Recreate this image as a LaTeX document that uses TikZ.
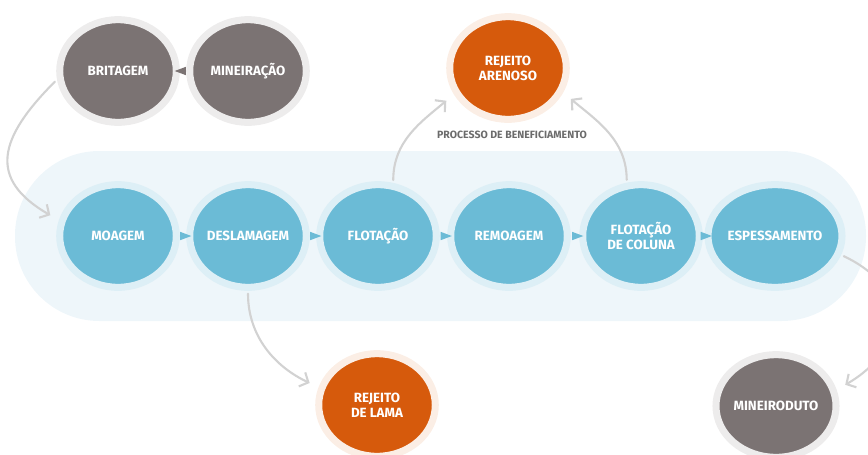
\documentclass[tikz,border=0pt]{standalone}
\usepackage{fontspec}
\setmainfont{Fira Sans}
\usetikzlibrary{shapes.geometric,arrows.meta}
\definecolor{fundo}{HTML}{EEF6FA}
\definecolor{azul}{HTML}{6BBBD6}
\definecolor{azulhalo}{HTML}{DDEFF6}
\definecolor{laranja}{HTML}{D65A0C}
\definecolor{laranjahalo}{HTML}{FBEEE5}
\definecolor{cinza}{HTML}{7B7373}
\definecolor{cinzahalo}{HTML}{EDECEC}
\definecolor{linha}{HTML}{D2D2D2}
\definecolor{titulo}{HTML}{6B6B6B}
\tikzset{
  circ/.style={ellipse, minimum width=82.9pt, minimum height=73pt, inner sep=0pt,
    line width=5pt, text=white, align=center,
    font=\fontsize{9.5}{10.5}\selectfont\bfseries},
  etapa/.style={circ, fill=azul, draw=azulhalo},
  rejeito/.style={circ, fill=laranja, draw=laranjahalo},
  extra/.style={circ, fill=cinza, draw=cinzahalo},
  ponta/.style={isosceles triangle, isosceles triangle stretches, fill=azul,
    inner sep=0pt, minimum width=6pt, minimum height=8pt},
  seta/.style={draw=linha, line width=1.5pt, line cap=round,
    -{Straight Barb[length=5pt,width=11pt]}, shorten <=2pt, shorten >=7pt},
  lab/.style={text=titulo, font=\fontsize{7.5}{9}\selectfont\bfseries},
}

\begin{document}
\begin{tikzpicture}[x=0.025cm, y=-0.025cm]
  \useasboundingbox (0,0) rectangle (868,454);
  \fill[fundo, rounded corners=60pt] (15,151) rectangle (866,321);

  % linha principal
  \node[etapa] (moagem)       at (118,236) {MOAGEM};
  \node[etapa] (deslamagem)   at (248,236) {DESLAMAGEM};
  \node[etapa] (flotacao)     at (378,236) {FLOTAÇÃO};
  \node[etapa] (remoagem)     at (509,236) {REMOAGEM};
  \node[etapa] (coluna)       at (641,236) {FLOTAÇÃO\\DE COLUNA};
  \node[etapa] (espessamento) at (775,236) {ESPESSAMENTO};
  \foreach \a/\b in {moagem/deslamagem, deslamagem/flotacao, flotacao/remoagem,
                     remoagem/coluna, coluna/espessamento}
    \path (\a) -- node[ponta] {} (\b);

  % entrada e saidas
  \node[extra] (britagem)   at (118,71) {BRITAGEM};
  \node[extra] (mineracao)  at (248,71) {MINEIRAÇÃO};
  \path (mineracao) -- node[ponta, fill=cinza, shape border rotate=180] {} (britagem);
  \node[rejeito] (arenoso)  at (508,68) {REJEITO\\ARENOSO};
  \node[rejeito] (lama)     at (377,405) {REJEITO\\DE LAMA};
  \node[extra] (mineroduto) at (776,406) {MINEIRODUTO};

  \node[lab] (titulo) at (512,135) {PROCESSO DE BENEFICIAMENTO};

  \draw[seta] (britagem.188) to[out=225, in=150, looseness=1.5] (moagem.165);
  \draw[seta] (flotacao.74) to[out=90, in=220] (arenoso.206);
  \draw[seta] (coluna.105) to[out=90, in=-40] (arenoso.336);
  \draw[seta] (deslamagem.270) to[out=-90, in=155] (lama.163);
  \draw[seta] (espessamento.344) to[out=-25, in=30, looseness=1.5] (mineroduto.15);
\end{tikzpicture}
\end{document}
